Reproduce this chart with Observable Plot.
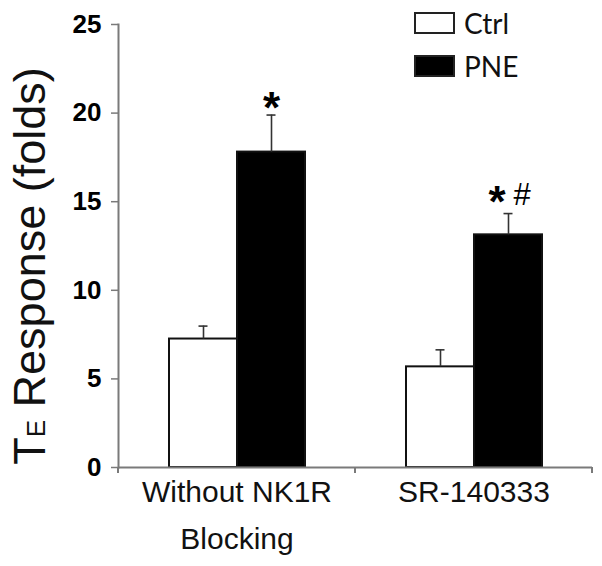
<!DOCTYPE html>
<html><head><meta charset="utf-8">
<script src="https://cdn.jsdelivr.net/npm/d3@7"></script>
<script src="https://cdn.jsdelivr.net/npm/@observablehq/plot@0.6"></script>
<style>
body{margin:0;background:#fff;}
#chart{position:relative;width:602px;height:566px;overflow:hidden;}
.legend{position:absolute;left:414px;top:0;font-family:Lato,"Open Sans",sans-serif;font-size:28px;line-height:28px;color:#111;}
.legend .row{position:absolute;left:0;display:flex;align-items:center;white-space:nowrap;}
.legend .sw{width:37px;height:18px;border:2px solid #222;margin-right:9px;}
</style></head>
<body><div id="chart"></div>
<script>
// ---- data ----
const groups = ["Without NK1R\nBlocking", "SR-140333"];
const series = ["Ctrl", "PNE"];
const ctrlValues = [7.25, 5.68];
const ctrlErrors = [0.73, 0.96];
const pneValues = [17.8, 13.13];
const pneErrors = [2.09, 1.2];
const yTicks = [0, 5, 10, 15, 20, 25];
const seriesColors = ["white", "black"];
const starMarks = ["*", "*"];
const hashMarks = ["", "#"];
const yLabel = "TE Response (folds)";

const rows = [];
groups.forEach((g, i) => {
  rows.push({group: g, gi: i, series: "Ctrl", value: ctrlValues[i], top: ctrlValues[i] + ctrlErrors[i]});
  rows.push({group: g, gi: i, series: "PNE", value: pneValues[i], top: pneValues[i] + pneErrors[i], star: starMarks[i], hash: hashMarks[i]});
});
const pneRows = rows.filter(d => d.series === "PNE");

const font = "Arial, 'Liberation Sans', sans-serif";
const axisGray = "#7a7a7a";

const plot = Plot.plot({
  width: 602,
  height: 566,
  marginLeft: 117,
  marginRight: 10,
  marginTop: 24,
  marginBottom: 99,
  style: {fontFamily: font, background: "white", color: "black"},
  fx: {domain: groups, padding: 0, label: null},
  x: {domain: series, paddingInner: 0, paddingOuter: 0.73, axis: null},
  y: {domain: [0, 25], label: null},
  color: {domain: series, range: seriesColors},
  marks: [
    Plot.barY(rows, {fx: "group", x: "series", y: "value", fill: "series", stroke: "#111", strokeWidth: 2}),
    Plot.ruleX(rows, {fx: "group", x: "series", y1: "value", y2: "top", stroke: "#333", strokeWidth: 1.6}),
    Plot.tickY(rows, {fx: "group", x: "series", y: "top", stroke: "#333", strokeWidth: 1.6, insetLeft: 29.5, insetRight: 29.5}),
    Plot.ruleY([0], {stroke: axisGray, strokeWidth: 2}),
    Plot.frame({anchor: "left", stroke: axisGray, strokeWidth: 2, facetAnchor: "left"}),
    Plot.axisY(yTicks, {tickSize: 7, tickPadding: 10, fontSize: 26, fontWeight: "bold", stroke: axisGray, fill: "black", label: null, strokeWidth: 1.5}),
    Plot.axisFx({anchor: "bottom", tickSize: 0, tickPadding: 1, fontSize: 30, lineHeight: 1.57, label: null, fill: "#111"}),
    Plot.text(pneRows.filter(d => d.gi === 0), {fx: "group", x: "series", y: "top", text: "star", fontSize: 44, fontWeight: "bold", lineAnchor: "bottom", dy: 8}),
    Plot.text(pneRows.filter(d => d.gi === 1), {fx: "group", x: "series", y: "top", text: "star", fontSize: 44, fontWeight: "bold", lineAnchor: "bottom", dy: 3, dx: -11.5}),
    Plot.text(pneRows.filter(d => d.gi === 1), {fx: "group", x: "series", y: "top", text: "hash", fontSize: 31, fontFamily: font, lineAnchor: "bottom", dy: -9, dx: 13.5}),
    Plot.text([yLabel], {frameAnchor: "left", textAnchor: "middle", rotate: -90, fontSize: 45, lineAnchor: "bottom", dx: -74, dy: 20, facetAnchor: "left", fill: "#111"})
  ]
});

// subscript-style E in the y label
d3.select(plot).selectAll("text").each(function() {
  if (this.textContent === yLabel) {
    const t = d3.select(this);
    t.text(null);
    t.append("tspan").text("T");
    t.append("tspan").attr("font-size", 26).text("E");
    t.append("tspan").text(" Response (folds)");
  }
});

// category-boundary ticks on the x axis (Excel style)
const fxs = plot.scale("fx");
const ys = plot.scale("y");
const y0 = ys.apply(0);
const bounds = groups.map(g => fxs.apply(g)).concat([fxs.apply(groups[groups.length - 1]) + fxs.bandwidth]);
const svg = d3.select(plot.tagName.toLowerCase() === "svg" ? plot : plot.querySelector("svg"));
svg.append("g").selectAll("line").data(bounds).join("line")
  .attr("x1", d => d).attr("x2", d => d).attr("y1", y0).attr("y2", y0 + 6)
  .attr("stroke", axisGray).attr("stroke-width", 2);

const chart = document.getElementById("chart");
chart.appendChild(plot);

// legend
const legend = document.createElement("div");
legend.className = "legend";
series.forEach((s, i) => {
  const row = document.createElement("div");
  row.className = "row";
  row.style.top = (9 + i * 43) + "px";
  const sw = document.createElement("div");
  sw.className = "sw";
  sw.style.background = seriesColors[i];
  const lab = document.createElement("span");
  lab.textContent = s;
  row.appendChild(sw); row.appendChild(lab);
  legend.appendChild(row);
});
chart.appendChild(legend);
</script>
</body></html>
